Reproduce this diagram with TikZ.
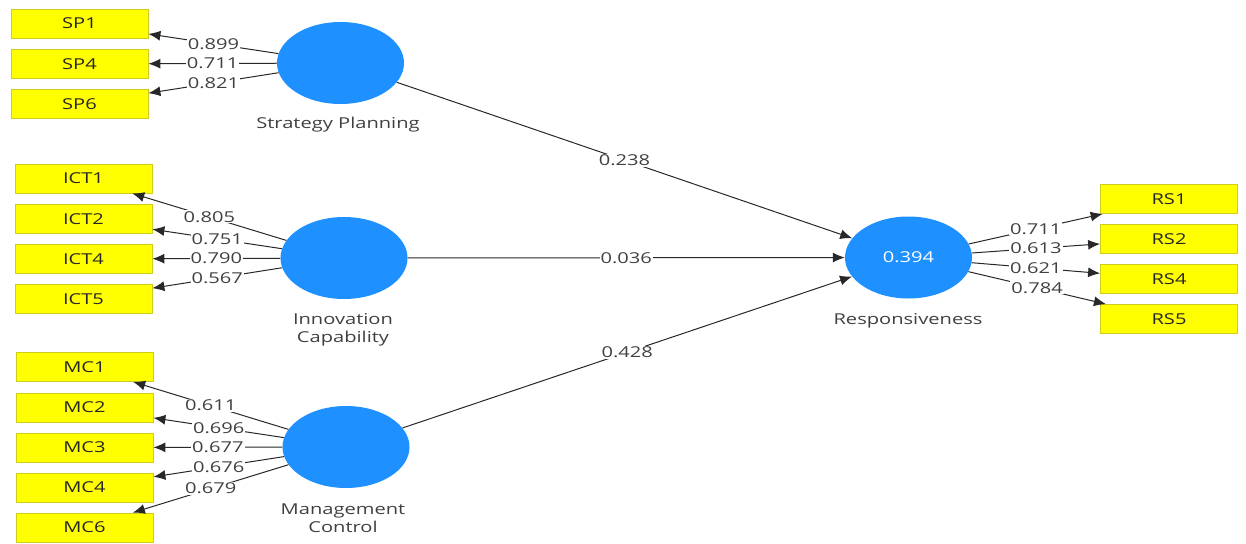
\documentclass[tikz,border=0pt]{standalone}
\usepackage{fontspec}
\setmainfont[FakeStretch=1.34]{Open Sans}
\usetikzlibrary{shapes.geometric,arrows.meta}
\definecolor{boxfill}{RGB}{255,255,0}
\definecolor{boxline}{RGB}{205,205,30}
\definecolor{lvblue}{RGB}{30,144,255}
\definecolor{linegray}{RGB}{40,40,40}
\definecolor{txtgray}{RGB}{64,64,64}
\begin{document}
\begin{tikzpicture}[x=1pt,y=-1pt,
  txt/.style={font=\fontsize{15}{18}\selectfont},
  ind/.style={txt, draw=boxline, fill=boxfill, minimum width=137pt, minimum height=29pt, inner sep=0pt, line width=0.8pt, text=black!85},
  lv/.style={ellipse, fill=lvblue, minimum width=127pt, minimum height=82pt, inner sep=0pt},
  lvlabel/.style={txt, text=txtgray, align=center},
  conn/.style={draw=linegray, line width=1pt, -{Latex[length=12pt,width=10pt]}},
  wt/.style={txt, fill=white, inner sep=1pt, text=txtgray}
]
\useasboundingbox (0,0) rectangle (1246,543);
% indicators
\node[ind] (SP1) at (79.5,23.5) {SP1};
\node[ind] (SP4) at (79.5,64) {SP4};
\node[ind] (SP6) at (79.5,104) {SP6};
\node[ind] (ICT1) at (83.5,178.5) {ICT1};
\node[ind] (ICT2) at (83.5,219) {ICT2};
\node[ind] (ICT4) at (83.5,259) {ICT4};
\node[ind] (ICT5) at (83.5,299) {ICT5};
\node[ind] (MC1) at (84.5,367) {MC1};
\node[ind] (MC2) at (84.5,407.5) {MC2};
\node[ind] (MC3) at (84.5,447.5) {MC3};
\node[ind] (MC4) at (84.5,487.5) {MC4};
\node[ind] (MC6) at (84.5,527.5) {MC6};
\node[ind] (RS1) at (1169,199) {RS1};
\node[ind] (RS2) at (1169,239) {RS2};
\node[ind] (RS4) at (1169,279) {RS4};
\node[ind] (RS5) at (1169,319) {RS5};
% latent variables
\node[lv] (SP) at (340.5,63) {};
\node[lv] (ICT) at (344,258) {};
\node[lv] (MC) at (346,447) {};
\node[lv, txt, text=white] (RS) at (908.5,257.5) {0.394};
\node[lvlabel] (SPlab) at (338,125) {Strategy Planning};
\node[lvlabel] (ICTlab) at (343,330) {Innovation\\Capability};
\node[lvlabel] (MClab) at (343,518) {Management\\Control};
\node[lvlabel] (RSlab) at (908,321) {Responsiveness};
% outer loadings
\draw[conn] (SP) -- node[wt]{0.899} (SP1);
\draw[conn] (SP) -- node[wt]{0.711} (SP4);
\draw[conn] (SP) -- node[wt]{0.821} (SP6);
\draw[conn] (ICT) -- node[wt]{0.805} (ICT1);
\draw[conn] (ICT) -- node[wt]{0.751} (ICT2);
\draw[conn] (ICT) -- node[wt]{0.790} (ICT4);
\draw[conn] (ICT) -- node[wt]{0.567} (ICT5);
\draw[conn] (MC) -- node[wt]{0.611} (MC1);
\draw[conn] (MC) -- node[wt]{0.696} (MC2);
\draw[conn] (MC) -- node[wt]{0.677} (MC3);
\draw[conn] (MC) -- node[wt]{0.676} (MC4);
\draw[conn] (MC) -- node[wt]{0.679} (MC6);
\draw[conn] (RS) -- node[wt]{0.711} (RS1);
\draw[conn] (RS) -- node[wt]{0.613} (RS2);
\draw[conn] (RS) -- node[wt]{0.621} (RS4);
\draw[conn] (RS) -- node[wt]{0.784} (RS5);
% path coefficients
\draw[conn] (SP) -- node[wt]{0.238} (RS);
\draw[conn] (ICT) -- node[wt]{0.036} (RS);
\draw[conn] (MC) -- node[wt]{0.428} (RS);
\end{tikzpicture}
\end{document}
